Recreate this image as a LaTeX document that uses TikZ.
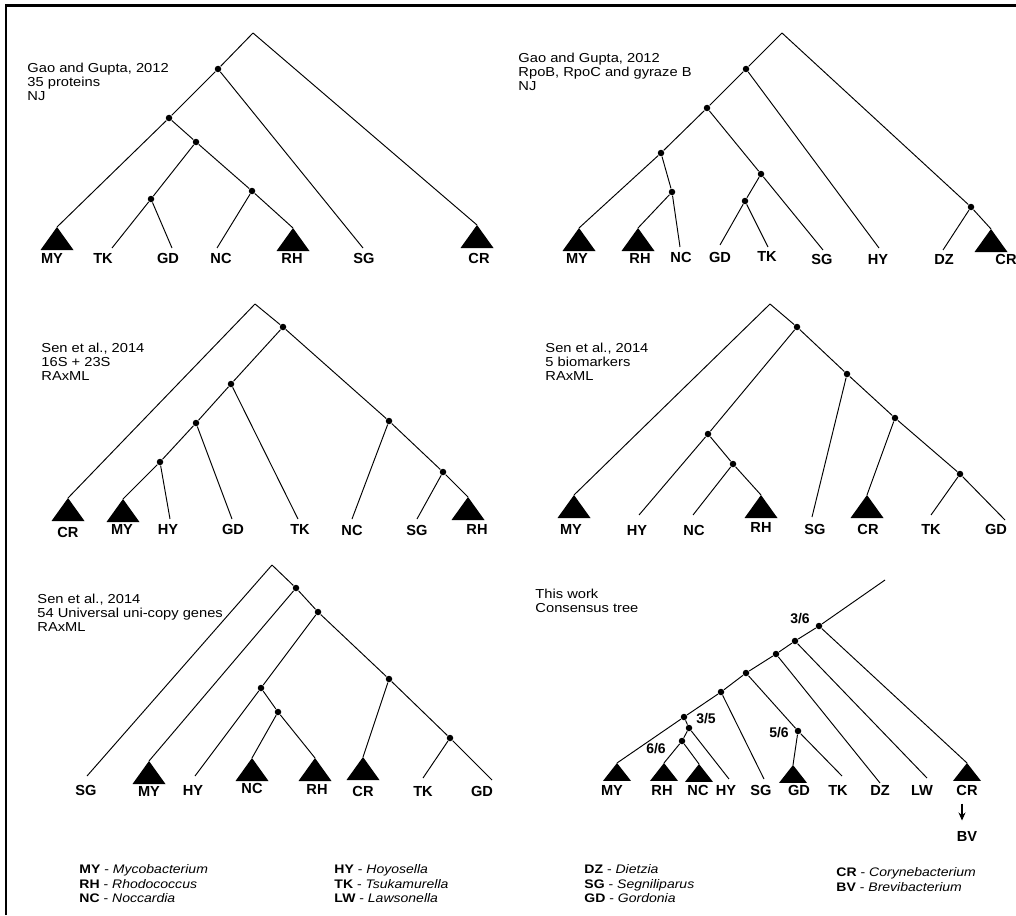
\documentclass[tikz,border=0pt]{standalone}
\usepackage{fontspec}
\setmainfont{Liberation Sans}
\newfontfamily\widefont[FakeStretch=1.13]{Liberation Sans}
\usetikzlibrary{arrows.meta}

\begin{document}
\begin{tikzpicture}[x=1pt, y=-1pt, line width=0.95pt,
  dot/.style={circle, fill, inner sep=0pt, minimum size=6.5pt},
  taxon/.style={font=\bfseries\fontsize{14.6}{16}\selectfont, inner sep=0pt},
  support/.style={font=\bfseries\fontsize{14}{16}\selectfont, inner sep=0pt},
  study/.style={font=\widefont\fontsize{13}{14}\selectfont, align=left, anchor=north west, inner sep=0pt},
  keytext/.style={font=\widefont\fontsize{12.4}{14.5}\selectfont, align=left, anchor=north west, inner sep=0pt},
  clade/.pic={\fill (0,0) -- (-16.5,23) -- (16.5,23) -- cycle;},
  smallclade/.style={xscale=0.85, yscale=0.78}]
  \useasboundingbox (0,0) rectangle (1016,915);
  \clip (0,0) rectangle (1016,915);
  \draw[line width=2.5pt] (6,915) -- (6,5.5) -- (1016,5.5);

  % Gao and Gupta, 35 proteins
  \node[study] (aname) at (27,63) {Gao and Gupta, 2012\\35 proteins\\NJ};
  \coordinate (a0) at (253,33);
  \node[dot] (a1) at (218,69) {};
  \node[dot] (a2) at (169,118) {};
  \node[dot] (a3) at (196,142) {};
  \node[dot] (a4) at (151,199) {};
  \node[dot] (a5) at (252,191) {};
  \coordinate (aMY) at (57,227);
  \coordinate (aTK) at (112,248);
  \coordinate (aGD) at (172,248);
  \coordinate (aNC) at (217,248);
  \coordinate (aRH) at (293,228);
  \coordinate (aSG) at (363,248);
  \coordinate (aCR) at (477,225);
  \draw (a0) -- (a1);
  \draw (a0) -- (aCR);
  \draw (a1) -- (a2);
  \draw (a1) -- (aSG);
  \draw (a2) -- (aMY);
  \draw (a2) -- (a3);
  \draw (a3) -- (a4);
  \draw (a3) -- (a5);
  \draw (a4) -- (aTK);
  \draw (a4) -- (aGD);
  \draw (a5) -- (aNC);
  \draw (a5) -- (aRH);
  \pic at (aMY) {clade};
  \pic at (aRH) {clade};
  \pic at (aCR) {clade};
  \node[taxon] (aMYt) at (52,258) {MY};
  \node[taxon] (aTKt) at (103,258) {TK};
  \node[taxon] (aGDt) at (168,258) {GD};
  \node[taxon] (aNCt) at (221,258) {NC};
  \node[taxon] (aRHt) at (292,258) {RH};
  \node[taxon] (aSGt) at (364,258) {SG};
  \node[taxon] (aCRt) at (479,258) {CR};

  % Gao and Gupta, RpoB RpoC gyrase
  \node[study] (bname) at (518,53) {Gao and Gupta, 2012\\RpoB, RpoC and gyraze B\\NJ};
  \coordinate (b0) at (782,33);
  \node[dot] (b1) at (746,69) {};
  \node[dot] (b2) at (707,108) {};
  \node[dot] (b3) at (661,153) {};
  \node[dot] (b4) at (672,192) {};
  \node[dot] (b5) at (761,174) {};
  \node[dot] (b6) at (745,201) {};
  \node[dot] (b7) at (971,207) {};
  \coordinate (bMY) at (579,228);
  \coordinate (bRH) at (638,228);
  \coordinate (bNC) at (680,247);
  \coordinate (bGD) at (720,245);
  \coordinate (bTK) at (768,247);
  \coordinate (bSG) at (823,250);
  \coordinate (bHY) at (879,248);
  \coordinate (bDZ) at (943,250);
  \coordinate (bCR) at (991,229);
  \draw (b0) -- (b1);
  \draw (b0) -- (b7);
  \draw (b1) -- (b2);
  \draw (b1) -- (bHY);
  \draw (b2) -- (b3);
  \draw (b2) -- (b5);
  \draw (b3) -- (bMY);
  \draw (b3) -- (b4);
  \draw (b4) -- (bRH);
  \draw (b4) -- (bNC);
  \draw (b5) -- (b6);
  \draw (b5) -- (bSG);
  \draw (b6) -- (bGD);
  \draw (b6) -- (bTK);
  \draw (b7) -- (bDZ);
  \draw (b7) -- (bCR);
  \pic at (bMY) {clade};
  \pic at (bRH) {clade};
  \pic at (bCR) {clade};
  \node[taxon] (bMYt) at (577,258) {MY};
  \node[taxon] (bRHt) at (640,258) {RH};
  \node[taxon] (bNCt) at (681,257) {NC};
  \node[taxon] (bGDt) at (720,257) {GD};
  \node[taxon] (bTKt) at (767,256) {TK};
  \node[taxon] (bSGt) at (822,259) {SG};
  \node[taxon] (bHYt) at (878,259) {HY};
  \node[taxon] (bDZt) at (944,259) {DZ};
  \node[taxon] (bCRt) at (1006,259) {CR};

  % Sen et al., 16S + 23S
  \node[study] (cname) at (41,343) {Sen et al., 2014\\16S + 23S\\RAxML};
  \coordinate (c0) at (255,304);
  \node[dot] (c1) at (283,327) {};
  \node[dot] (c2) at (231,384) {};
  \node[dot] (c3) at (196,423) {};
  \node[dot] (c4) at (160,462) {};
  \node[dot] (c5) at (389,421) {};
  \node[dot] (c6) at (443,472) {};
  \coordinate (cCR) at (68,498);
  \coordinate (cMY) at (123,499);
  \coordinate (cHY) at (170,519);
  \coordinate (cGD) at (232,519);
  \coordinate (cTK) at (298,519);
  \coordinate (cNC) at (352,519);
  \coordinate (cSG) at (417,519);
  \coordinate (cRH) at (468,497);
  \draw (c0) -- (cCR);
  \draw (c0) -- (c1);
  \draw (c1) -- (c2);
  \draw (c1) -- (c5);
  \draw (c2) -- (c3);
  \draw (c2) -- (cTK);
  \draw (c3) -- (c4);
  \draw (c3) -- (cGD);
  \draw (c4) -- (cMY);
  \draw (c4) -- (cHY);
  \draw (c5) -- (cNC);
  \draw (c5) -- (c6);
  \draw (c6) -- (cSG);
  \draw (c6) -- (cRH);
  \pic at (cCR) {clade};
  \pic at (cMY) {clade};
  \pic at (cRH) {clade};
  \node[taxon] (cCRt) at (68,532) {CR};
  \node[taxon] (cMYt) at (122,529) {MY};
  \node[taxon] (cHYt) at (168,529) {HY};
  \node[taxon] (cGDt) at (233,529) {GD};
  \node[taxon] (cTKt) at (300,529) {TK};
  \node[taxon] (cNCt) at (352,530) {NC};
  \node[taxon] (cSGt) at (417,530) {SG};
  \node[taxon] (cRHt) at (477,529) {RH};

  % Sen et al., 5 biomarkers
  \node[study] (dname) at (545,343) {Sen et al., 2014\\5 biomarkers\\RAxML};
  \coordinate (d0) at (770,304);
  \node[dot] (d1) at (797,327) {};
  \node[dot] (d2) at (847,374) {};
  \node[dot] (d3) at (895,418) {};
  \node[dot] (d4) at (960,474) {};
  \node[dot] (d5) at (708,434) {};
  \node[dot] (d6) at (733,464) {};
  \coordinate (dMY) at (574,495);
  \coordinate (dHY) at (639,515);
  \coordinate (dNC) at (693,515);
  \coordinate (dRH) at (761,495);
  \coordinate (dSG) at (812,517);
  \coordinate (dCR) at (867,495);
  \coordinate (dTK) at (931,515);
  \coordinate (dGD) at (1005,520);
  \draw (d0) -- (dMY);
  \draw (d0) -- (d1);
  \draw (d1) -- (d5);
  \draw (d1) -- (d2);
  \draw (d2) -- (dSG);
  \draw (d2) -- (d3);
  \draw (d3) -- (dCR);
  \draw (d3) -- (d4);
  \draw (d4) -- (dTK);
  \draw (d4) -- (dGD);
  \draw (d5) -- (dHY);
  \draw (d5) -- (d6);
  \draw (d6) -- (dNC);
  \draw (d6) -- (dRH);
  \pic at (dMY) {clade};
  \pic at (dRH) {clade};
  \pic at (dCR) {clade};
  \node[taxon] (dMYt) at (571,529) {MY};
  \node[taxon] (dHYt) at (637,530) {HY};
  \node[taxon] (dNCt) at (694,530) {NC};
  \node[taxon] (dRHt) at (761,527) {RH};
  \node[taxon] (dSGt) at (815,529) {SG};
  \node[taxon] (dCRt) at (868,529) {CR};
  \node[taxon] (dTKt) at (931,529) {TK};
  \node[taxon] (dGDt) at (996,529) {GD};

  % Sen et al., 54 genes
  \node[study] (ename) at (37,594) {Sen et al., 2014\\54 Universal uni-copy genes\\RAxML};
  \coordinate (e0) at (272,565);
  \node[dot] (e1) at (296,588) {};
  \node[dot] (e2) at (318,612) {};
  \node[dot] (e3) at (389,679) {};
  \node[dot] (e4) at (450,738) {};
  \node[dot] (e5) at (261,688) {};
  \node[dot] (e6) at (278,712) {};
  \coordinate (eSG) at (87,776);
  \coordinate (eMY) at (149,761);
  \coordinate (eHY) at (195,776);
  \coordinate (eNC) at (252,758);
  \coordinate (eRH) at (315,758);
  \coordinate (eCR) at (363,757);
  \coordinate (eTK) at (423,778);
  \coordinate (eGD) at (492,780);
  \draw (e0) -- (eSG);
  \draw (e0) -- (e1);
  \draw (e1) -- (eMY);
  \draw (e1) -- (e2);
  \draw (e2) -- (e5);
  \draw (e2) -- (e3);
  \draw (e5) -- (eHY);
  \draw (e5) -- (e6);
  \draw (e6) -- (eNC);
  \draw (e6) -- (eRH);
  \draw (e3) -- (eCR);
  \draw (e3) -- (e4);
  \draw (e4) -- (eTK);
  \draw (e4) -- (eGD);
  \pic at (eMY) {clade};
  \pic at (eNC) {clade};
  \pic at (eRH) {clade};
  \pic at (eCR) {clade};
  \node[taxon] (eSGt) at (86,790) {SG};
  \node[taxon] (eMYt) at (149,791) {MY};
  \node[taxon] (eHYt) at (193,790) {HY};
  \node[taxon] (eNCt) at (252,788) {NC};
  \node[taxon] (eRHt) at (317,789) {RH};
  \node[taxon] (eCRt) at (363,791) {CR};
  \node[taxon] (eTKt) at (423,791) {TK};
  \node[taxon] (eGDt) at (482,791) {GD};

  % consensus tree
  \node[study] (fname) at (535,589) {This work\\Consensus tree};
  \coordinate (f0) at (885,580);
  \node[dot] (f1) at (819,626) {};
  \node[dot] (f2) at (795,641) {};
  \node[dot] (f3) at (776,654) {};
  \node[dot] (f4) at (746,673) {};
  \node[dot] (f5) at (721,692) {};
  \node[dot] (f6) at (684,717) {};
  \node[dot] (f7) at (689,728) {};
  \node[dot] (f8) at (682,741) {};
  \node[dot] (f9) at (798,731) {};
  \coordinate (fMY) at (617,763);
  \coordinate (fRH) at (664,763);
  \coordinate (fNC) at (699,764);
  \coordinate (fHY) at (729,779);
  \coordinate (fSG) at (764,779);
  \coordinate (fGD) at (793,765);
  \coordinate (fTK) at (842,776);
  \coordinate (fDZ) at (880,783);
  \coordinate (fLW) at (927,778);
  \coordinate (fCR) at (967,763);
  \draw (f0) -- (f1);
  \draw (f1) -- (fCR);
  \draw (f1) -- (f2);
  \draw (f2) -- (fLW);
  \draw (f2) -- (f3);
  \draw (f3) -- (fDZ);
  \draw (f3) -- (f4);
  \draw (f4) -- (f9);
  \draw (f9) -- (fGD);
  \draw (f9) -- (fTK);
  \draw (f4) -- (f5);
  \draw (f5) -- (fSG);
  \draw (f5) -- (f6);
  \draw (f6) -- (fMY);
  \draw (f6) -- (f7);
  \draw (f7) -- (fHY);
  \draw (f7) -- (f8);
  \draw (f8) -- (fRH);
  \draw (f8) -- (fNC);
  \pic[smallclade] at (fMY) {clade};
  \pic[smallclade] at (fRH) {clade};
  \pic[smallclade] at (fNC) {clade};
  \pic[smallclade] at (fGD) {clade};
  \pic[smallclade] at (fCR) {clade};
  \node[support] (f1s) at (800,619) {3/6};
  \node[support] (f7s) at (706,719) {3/5};
  \node[support] (f8s) at (656,749) {6/6};
  \node[support] (f9s) at (779,733) {5/6};
  \node[taxon] (fMYt) at (612,790) {MY};
  \node[taxon] (fRHt) at (662,790) {RH};
  \node[taxon] (fNCt) at (698,790) {NC};
  \node[taxon] (fHYt) at (726,790) {HY};
  \node[taxon] (fSGt) at (761,790) {SG};
  \node[taxon] (fGDt) at (799,790) {GD};
  \node[taxon] (fTKt) at (838,790) {TK};
  \node[taxon] (fDZt) at (880,790) {DZ};
  \node[taxon] (fLWt) at (922,790) {LW};
  \node[taxon] (fCRt) at (967,790) {CR};
  \node[taxon] (fBVt) at (967,836) {BV};
  \draw[line width=1.1pt, -{Stealth[length=8pt, width=7pt]}, shorten <=8pt, shorten >=10pt]
    ([xshift=-5pt]fCRt.south) -- ([xshift=-5pt]fBVt.north);

  % key to the abbreviations
  \node[keytext] (key1) at (79,864.5) {\textbf{MY} - \textit{Mycobacterium}\\\textbf{RH} - \textit{Rhodococcus}\\\textbf{NC} - \textit{Noccardia}};
  \node[keytext] (key2) at (334,864.5) {\textbf{HY} - \textit{Hoyosella}\\\textbf{TK} - \textit{Tsukamurella}\\\textbf{LW} - \textit{Lawsonella}};
  \node[keytext] (key3) at (584,864.5) {\textbf{DZ} - \textit{Dietzia}\\\textbf{SG} - \textit{Segniliparus}\\\textbf{GD} - \textit{Gordonia}};
  \node[keytext] (key4) at (836,867.5) {\textbf{CR} - \textit{Corynebacterium}\\\textbf{BV} - \textit{Brevibacterium}};
\end{tikzpicture}
\end{document}
